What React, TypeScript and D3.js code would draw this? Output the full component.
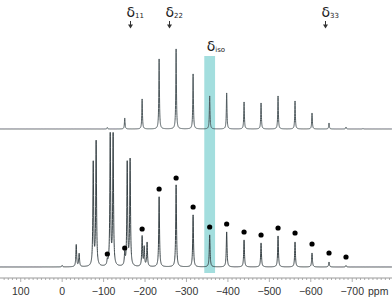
import React from "react";
import * as d3 from "d3";

// Spinning sideband positions (ppm)
const sidebandPpm = [-109, -151, -193, -234, -275, -316, -356, -397, -439, -480, -521, -562, -603, -644, -685, -726];
// Simulated (top) spectrum intensities at sidebands
const topInt = [1.5, 11, 30, 70, 80, 55, 33, 36, 27, 26, 33, 28, 16, 6, 2, 0.6];

// Experimental (bottom) spectrum peaks
const bottomPpm = [0, -34, -41, -75, -82, -109, -116, -123, -151, -157, -164, -193, -198, -205, -234, -275, -316, -356, -397, -439, -480, -521, -562, -603, -644, -685];
const bottomInt = [1.5, 22, 13, 103, 124, 5, 131, 131, 12, 103, 106, 30, 19, 24, 70, 82, 52, 32, 35, 27, 24, 31, 25, 14, 5, 1.5];

// Dots marking sidebands in the bottom spectrum
const dotPpm = [-109, -151, -193, -234, -275, -316, -356, -397, -439, -480, -521, -562, -603, -644, -685];
const dotInt = [13, 19, 38, 78, 89, 60, 40, 43, 35, 32, 39, 34, 23, 14, 10];

// Tensor component labels
const tensorLabels = [
  { main: "δ", sub: "11", ppm: -164 },
  { main: "δ", sub: "22", ppm: -258 },
  { main: "δ", sub: "33", ppm: -635 },
];
const isoPpm = [-343, -369];
const majorTicks = [100, 0, -100, -200, -300, -400, -500, -600, -700];

const W = 392;
const H = 298;

function spectrum(ppms: number[], ints: number[], hw: number, x: d3.ScaleLinear<number, number>, y: d3.ScaleLinear<number, number>) {
  const pts: [number, number][] = [];
  const [d0, d1] = x.domain();
  for (let p = d0; p >= d1; p -= 0.2) {
    let v = 0;
    for (let i = 0; i < ppms.length; i++) {
      const dx = (p - ppms[i]) / hw;
      v += ints[i] / (1 + dx * dx);
    }
    pts.push([x(p), y(v)]);
  }
  return d3.line()(pts) || "";
}

export default function App() {
  const x = d3.scaleLinear().domain([150, -796]).range([0, W]);
  const yTop = d3.scaleLinear().domain([0, 100]).range([129, 29]);
  const yBot = d3.scaleLinear().domain([0, 131]).range([267, 136]);
  const minor = d3.range(140, -796, -10);
  const font = "'Liberation Sans', Arial, sans-serif";
  const dfont = "'DejaVu Sans', sans-serif";
  return (
    <svg width={W} height={H} style={{ position: "absolute", left: 0, top: 0, background: "#fff" }}>
      <rect x={x(isoPpm[0])} y={56} width={x(isoPpm[1]) - x(isoPpm[0])} height={273 - 56} fill="#a3dede" />
      <path d={spectrum(sidebandPpm, topInt, 0.9, x, yTop)} fill="none" stroke="#4f5a5e" strokeWidth={1} />
      <path d={spectrum(bottomPpm, bottomInt, 1.1, x, yBot)} fill="none" stroke="#3a4448" strokeWidth={1} />
      {dotPpm.map((p, i) => (
        <circle key={i} cx={x(p)} cy={yBot(dotInt[i])} r={2.6} fill="#000" />
      ))}
      {tensorLabels.map((t, i) => {
        const cx = Math.round(x(t.ppm)) + 0.5;
        return (
          <g key={i}>
            <text x={cx - 4} y={17} fontFamily={dfont} fontSize={14} fill="#222">
              {t.main}
              <tspan fontSize={7} dy={1}>{t.sub}</tspan>
            </text>
            <line x1={cx} x2={cx} y1={21} y2={25} stroke="#333" strokeWidth={1} />
            <path d={`M${cx - 2.5},24.5 L${cx + 2.5},24.5 L${cx},28.5 Z`} fill="#333" />
          </g>
        );
      })}
      <text x={x(-356) - 3} y={51} fontFamily={dfont} fontSize={14} fill="#222">
        δ<tspan fontSize={7} dy={1}>iso</tspan>
      </text>
      <line x1={0} x2={W} y1={278} y2={278} stroke="#9a9a9a" strokeWidth={1} />
      {minor.map((t) => (
        <line key={t} x1={x(t)} x2={x(t)} y1={278} y2={t % 100 === 0 ? 282 : 280} stroke="#9a9a9a" strokeWidth={0.8} />
      ))}
      {majorTicks.map((t) => (
        <text key={t} x={x(t)} y={295} fontFamily={font} fontSize={10.5} textAnchor="middle" fill="#333">
          {t < 0 ? "−" + Math.abs(t) : String(t)}
        </text>
      ))}
      <text x={368} y={295} fontFamily={font} fontSize={10.5} fill="#333">ppm</text>
    </svg>
  );
}
